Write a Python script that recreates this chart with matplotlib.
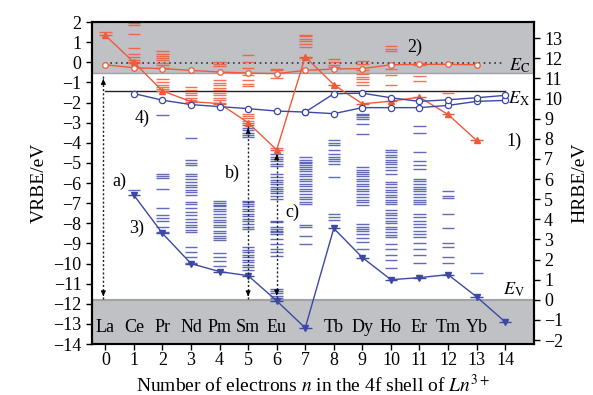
import matplotlib
matplotlib.use("Agg")
import matplotlib.pyplot as plt

plt.rcParams["font.family"] = ["Liberation Serif", "DejaVu Serif"]
plt.rcParams["mathtext.fontset"] = "stix"

# electron number n, element labels (Gd at n=7 is not labelled)
n_elem = [0, 1, 2, 3, 4, 5, 6, 8, 9, 10, 11, 12, 13]
elements = ["La", "Ce", "Pr", "Nd", "Pm", "Sm", "Eu", "Tb", "Dy", "Ho", "Er", "Tm", "Yb"]

# 1) 4f ground state of Ln2+ (VRBE, eV)
n_c1 = [0, 1, 2, 3, 4, 5, 6, 7, 8, 9, 10, 11, 12, 13]
vrbe_c1 = [1.34, 0.0, -1.42, -1.95, -2.05, -3.0, -4.35, 0.28, -1.11, -2.06, -1.93, -1.73, -2.59, -3.88]

# 2) 5d state of Ln2+ (open circles, red)
n_c2 = [0, 1, 2, 3, 4, 5, 6, 7, 8, 9, 10, 11, 12, 13]
vrbe_c2 = [-0.12, -0.27, -0.31, -0.4, -0.48, -0.53, -0.56, -0.4, -0.33, -0.31, -0.12, -0.1, -0.1, -0.12]

# 3) 4f ground state of Ln3+
n_c3 = [1, 2, 3, 4, 5, 6, 7, 8, 9, 10, 11, 12, 13, 14]
vrbe_c3 = [-6.6, -8.5, -10.0, -10.4, -10.6, -11.85, -13.2, -8.25, -9.7, -10.8, -10.7, -10.55, -11.65, -12.9]

# 4) lowest 5d states of Ln3+ (two branches after Gd)
n_c4a = [1, 2, 3, 4, 5, 6, 7, 8, 9, 10, 11, 12, 13, 14]
vrbe_c4a = [-1.55, -1.88, -2.1, -2.2, -2.3, -2.42, -2.47, -2.55, -2.25, -2.25, -2.25, -2.14, -1.94, -1.89]
n_c4b = [7, 8, 9, 10, 11, 12, 13, 14]
vrbe_c4b = [-2.47, -1.56, -1.53, -1.76, -1.94, -1.86, -1.76, -1.64]

# excited 4f levels of Ln2+ (red dashes), index = n
red_levels = [
    [1.51],
    [1.98, 1.84, 1.43, 0.73, 0.43, 0.27, 0.13, -0.02],
    [0.55, 0.43, 0.31, 0.21, 0.1, -0.02, -0.15, -0.26, -0.85, -0.98, -1.11, -1.23, -1.34],
    [-1.23, -1.36, -1.5, -1.62, -1.75, -1.88],
    [0.01, -0.1, -0.2, -0.9, -1.03, -1.14, -1.26, -1.39, -1.53, -1.64, -1.78, -1.89, -2.0],
    [0.38, 0.02, -0.28, -0.61, -0.9, -1.06, -1.19, -2.55, -2.67, -2.77, -2.89],
    [-0.31, -0.4, -0.78, -4.25],
    [1.38, 1.29, 1.18, 1.06, 0.93, 0.76, 0.21],
    [0.18, 0.01, -0.11, -0.23],
    [0.05, -0.07, -0.4, -0.56, -0.73, -0.85, -0.98, -1.14],
    [0.81, 0.68, 0.55, -0.31, -0.65, -1.11],
    [-0.02, -0.15, -0.7, -0.93],
    [-1.51],
    [],
    [],
]

# excited 4f levels of Ln3+ (blue dashes), index = n
blue_levels = [
    [],
    [-6.33],
    [-2.6, -5.57, -5.67, -5.77, -6.28, -7.23, -7.58, -7.73, -7.86, -8.19, -8.44],
    [-3.75, -4.84, -4.98, -5.11, -5.54, -5.66, -5.81, -5.94, -6.08, -6.2, -6.33, -6.45, -6.57,
     -6.92, -7.03, -7.25, -7.45, -7.58, -7.8, -7.95, -8.06, -8.19, -8.32, -8.42,
     -9.19, -9.44, -9.69, -9.99],
    [-6.87, -6.98, -7.08, -7.16, -7.28, -7.4, -7.53, -7.7, -7.83, -7.95, -8.06, -8.19, -8.36,
     -8.49, -8.61, -8.72, -8.82, -9.49, -9.69, -9.89, -10.1],
    [-3.13, -3.25, -3.38, -3.52, -3.63, -3.72, -6.87, -6.95, -7.06, -7.16, -7.28, -7.4, -7.53,
     -7.66, -7.78, -7.9, -8.02, -8.16, -8.27, -9.19, -9.32, -9.44, -9.55, -9.69, -9.82, -9.94,
     -10.05, -10.18, -10.31],
    [-4.54, -4.68, -4.79, -4.91, -5.04, -5.17, -5.54, -5.71, -5.84, -5.96, -6.07, -6.17, -6.28,
     -6.4, -6.5, -6.62, -6.78, -7.86, -7.95, -8.19, -8.27, -8.36, -8.44, -8.52, -8.77, -9.02,
     -9.27, -9.44, -9.6, -11.26, -11.38, -11.48, -11.59, -11.71],
    [-4.71, -4.83, -4.93, -5.01, -5.12, -5.21, -5.32, -5.42, -5.54, -5.67, -5.79, -5.91, -6.03,
     -6.15, -6.28, -6.4, -6.53, -6.67, -6.78, -6.92, -7.03, -8.06, -8.19, -8.61, -9.05],
    [-3.88, -4.01, -4.13, -4.38, -4.54, -4.68, -4.79, -4.91, -5.04, -5.71, -7.56, -7.7, -7.83],
    [-2.55, -2.63, -2.72, -2.8, -3.08, -3.55, -5.21, -5.34, -5.46, -5.54, -5.67, -5.82, -5.92,
     -6.03, -6.15, -6.28, -6.4, -6.53, -6.67, -6.83, -6.95, -7.08, -8.02, -8.16, -8.27, -8.39,
     -8.52, -8.72, -8.94, -9.27],
    [-4.34, -4.46, -4.58, -4.71, -4.84, -4.96, -5.07, -5.21, -5.37, -5.57, -5.96, -6.07, -6.2,
     -6.33, -6.45, -6.57, -6.7, -6.83, -6.95, -7.06, -7.36, -7.5, -7.61, -7.75, -7.86, -7.99,
     -8.16, -8.29, -8.44, -8.56, -8.69, -9.05, -9.3, -9.55, -9.82, -10.21],
    [-3.18, -3.52, -4.46, -4.91, -5.09, -5.29, -5.79, -5.91, -6.03, -6.17, -6.28, -6.4, -6.53,
     -6.67, -6.83, -6.95, -7.03, -7.53, -7.7, -7.86, -8.02, -8.19, -8.36, -8.52, -8.69, -8.97,
     -9.27, -9.57, -9.99],
    [-6.4, -6.62, -6.73, -7.53, -8.24, -8.97, -9.19, -9.69, -9.99],
    [-10.46],
    [],
]

E_C = -0.55
E_X = -1.4
E_V = -11.8
vac_dotted = -0.02

RED = "#ef5a3a"
BLUE = "#3c48a6"
BLUE_LVL = "#4652b0"
GRAY = "#bfc1c5"

fig = plt.figure(figsize=(5.93, 3.95), dpi=100)
ax = fig.add_axes([0.155, 0.129, 0.745, 0.815])
ax.set_xlim(-0.47, 15.0)
ax.set_ylim(-14, 2)

# conduction band / valence band areas
ax.axhspan(E_C, 2, color=GRAY, zorder=0, lw=0)
ax.axhspan(-14, E_V, color=GRAY, zorder=0, lw=0)
ax.axhline(E_C, color="#a0a2a6", lw=1.0, zorder=0.5)
ax.axhline(E_V, color="#a0a2a6", lw=1.5, zorder=0.5)

ax.plot([0, 14], [vac_dotted, vac_dotted], color="#333333", lw=1.2,
        linestyle=(0, (1, 2.2)), zorder=1)
ax.plot([0, 14], [E_X, E_X], color="#222222", lw=1.0, zorder=1)

# 4f level dashes
hw = 0.22
for n, lv in enumerate(red_levels):
    if lv:
        ax.hlines(lv, n - hw, n + hw, color=RED, lw=1.0, alpha=0.85, zorder=2)
for n, lv in enumerate(blue_levels):
    if lv:
        ax.hlines(lv, n - hw, n + hw, color=BLUE_LVL, lw=1.0, alpha=0.85, zorder=2)

# ground-state dashes under the triangle markers
ax.hlines(vrbe_c1, [n - hw for n in n_c1], [n + hw for n in n_c1], color=RED, lw=1.0, zorder=3)
ax.hlines(vrbe_c3, [n - hw for n in n_c3], [n + hw for n in n_c3], color=BLUE, lw=1.0, zorder=3)

ax.plot(n_c1, vrbe_c1, "-^", color=RED, lw=1.0, ms=4, zorder=4)
ax.plot(n_c2, vrbe_c2, "-o", color=RED, lw=1.0, ms=4, mfc="white", mew=0.9, zorder=4)
ax.plot(n_c3, vrbe_c3, "-v", color=BLUE, lw=1.0, ms=4, zorder=4)
ax.plot(n_c4a, vrbe_c4a, "-o", color=BLUE, lw=1.0, ms=4.5, mfc="white", mew=0.9, zorder=4)
ax.plot(n_c4b, vrbe_c4b, "-o", color=BLUE, lw=1.0, ms=4.5, mfc="white", mew=0.9, zorder=4)


def dotted_arrow(x, y0, y1, both=True):
    ax.plot([x, x], [y0, y1], color="#222222", lw=1.0, linestyle=(0, (1.5, 1.5)), zorder=5)
    ax.annotate("", xy=(x, y1), xytext=(x, y1 - 0.35 * (1 if y1 > y0 else -1)),
                arrowprops=dict(arrowstyle="-|>", color="black", lw=0.8, mutation_scale=7),
                zorder=5)
    if both:
        ax.annotate("", xy=(x, y0), xytext=(x, y0 + 0.35 * (1 if y1 > y0 else -1)),
                    arrowprops=dict(arrowstyle="-|>", color="black", lw=0.8, mutation_scale=7),
                    zorder=5)


dotted_arrow(-0.07, -11.75, -0.7)
dotted_arrow(5.0, -11.75, -3.15)
dotted_arrow(6.0, -11.7, -4.45)

fs = 13
for x, t in zip(n_elem, elements):
    ax.text(x, -13.2, t, ha="center", va="center", fontsize=fs)

ax.text(0.5, -5.9, "a)", ha="center", va="center", fontsize=fs)
ax.text(4.45, -5.5, "b)", ha="center", va="center", fontsize=fs)
ax.text(6.55, -7.45, "c)", ha="center", va="center", fontsize=fs)
ax.text(14.3, -3.95, "1)", ha="center", va="center", fontsize=fs)
ax.text(10.85, 0.75, "2)", ha="center", va="center", fontsize=fs)
ax.text(1.1, -8.25, "3)", ha="center", va="center", fontsize=fs)
ax.text(1.3, -2.8, "4)", ha="center", va="center", fontsize=fs)
ax.text(14.5, -0.15, r"$E_\mathrm{C}$", ha="center", va="center", fontsize=fs)
ax.text(14.5, -1.8, r"$E_\mathrm{X}$", ha="center", va="center", fontsize=fs)
ax.text(14.3, -11.3, r"$E_\mathrm{V}$", ha="center", va="center", fontsize=fs)

ax.set_xticks(range(0, 15))
ax.set_yticks(range(-14, 3))
ax.tick_params(direction="out", length=4, width=1.0, labelsize=fs)
ax.tick_params(axis="x", pad=2)
ax.set_xlabel(r"Number of electrons $n$ in the 4f shell of $Ln^{3+}$", fontsize=14, labelpad=3)
ax.set_ylabel("VRBE/eV", fontsize=14, labelpad=4)
for s in ax.spines.values():
    s.set_linewidth(1.5)

ax2 = ax.twinx()
ax2.set_ylim(-14 - E_V, 2 - E_V)
ax2.set_yticks(range(-2, 14))
ax2.tick_params(direction="out", length=4, width=1.0, labelsize=fs)
ax2.set_ylabel("HRBE/eV", fontsize=14, labelpad=6)
for s in ax2.spines.values():
    s.set_linewidth(1.5)

fig.savefig("out.png", dpi=100)
